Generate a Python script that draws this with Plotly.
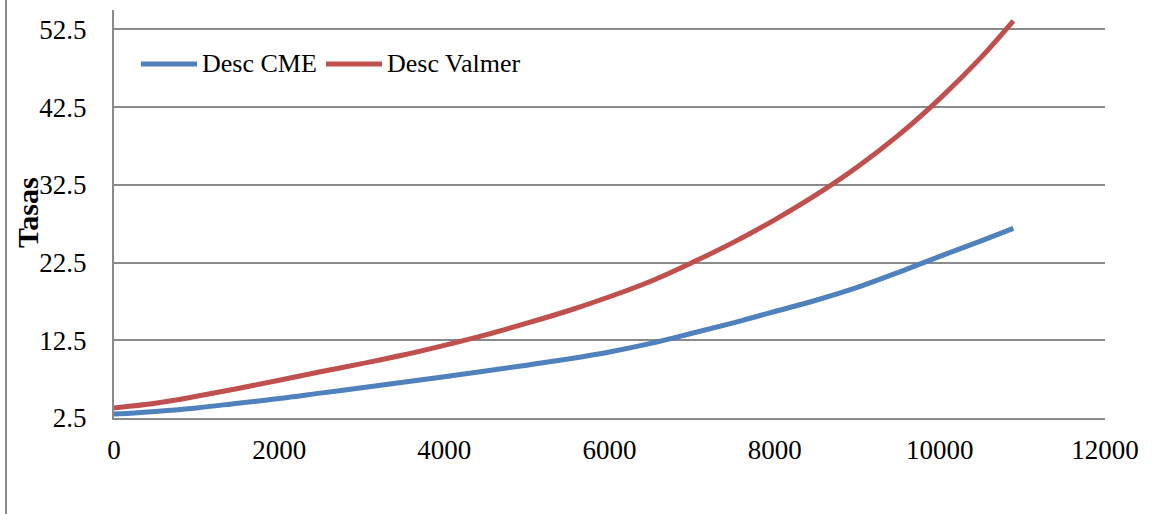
import plotly.graph_objects as go

# Plazo (días) y tasas de descuento de cada curva
plazo_cme = [0, 500, 1000, 1500, 2000, 2500, 3000, 3500, 4000, 4500, 5000, 5500,
             6000, 6500, 7000, 7500, 8000, 8500, 9000, 9500, 10000, 10500, 10890]
desc_cme = [3.0, 3.35, 3.8, 4.4, 5.0, 5.7, 6.4, 7.1, 7.8, 8.55, 9.3, 10.1,
            11.0, 12.1, 13.4, 14.75, 16.2, 17.65, 19.3, 21.25, 23.3, 25.3, 26.9]

plazo_valmer = [0, 500, 1000, 1500, 2000, 2500, 3000, 3500, 4000, 4500, 5000, 5500,
                6000, 6500, 7000, 7500, 8000, 8500, 9000, 9500, 10000, 10500, 10890]
desc_valmer = [3.8, 4.4, 5.3, 6.3, 7.35, 8.45, 9.5, 10.6, 11.85, 13.2, 14.7, 16.3,
               18.1, 20.1, 22.5, 25.1, 28.0, 31.2, 34.8, 38.9, 43.6, 48.9, 53.6]

y_ticks = [2.5, 12.5, 22.5, 32.5, 42.5, 52.5]
x_ticks = [0, 2000, 4000, 6000, 8000, 10000, 12000]

series = [("Desc CME", plazo_cme, desc_cme, "#4F81BD"),
          ("Desc Valmer", plazo_valmer, desc_valmer, "#C0504D")]

serif = "Liberation Serif"
grid_gray = "#8a8a8a"

# plot-area size in pixels, used to place the legend in paper units
W, H = 991, 408
L, T = 114, 10

fig = go.Figure()
for name, xs, ys, color in series:
    fig.add_trace(go.Scatter(x=xs, y=ys, name=name, mode="lines", showlegend=False,
                             line=dict(color=color, width=5, shape="spline")))

# legend drawn inside the plot area: a line sample followed by its label
shapes = []
annotations = []
legend_y = (418 - 64) / H
legend_items = [(141, 197, 201), (326, 382, 386)]
for (name, _, _, color), (lx0, lx1, tx) in zip(series, legend_items):
    shapes.append(dict(type="line", xref="paper", yref="paper",
                       x0=(lx0 - L) / W, x1=(lx1 - L) / W, y0=legend_y, y1=legend_y,
                       line=dict(color=color, width=5)))
    annotations.append(dict(text=name, xref="paper", yref="paper",
                            x=(tx - L) / W, y=legend_y, xanchor="left", yanchor="middle",
                            showarrow=False, borderpad=0,
                            font=dict(family=serif, size=26, color="#000000")))

# axis title
annotations.append(dict(text="<b>Tasas</b>", xref="paper", yref="paper",
                        x=(27 - L) / W, y=(418 - 213) / H, textangle=-90,
                        xanchor="center", yanchor="middle", showarrow=False,
                        font=dict(family=serif, size=30, color="#000000")))

# outer frame line on the left side of the chart
shapes.append(dict(type="line", xref="paper", yref="paper",
                   x0=(6 - L) / W, x1=(6 - L) / W, y0=-0.24, y1=1.03,
                   line=dict(color=grid_gray, width=2)))

fig.update_layout(
    width=1156, height=514,
    margin=dict(l=114, r=51, t=10, b=96),
    paper_bgcolor="white", plot_bgcolor="white",
    font=dict(family=serif, size=27, color="#000000"),
    showlegend=False,
    xaxis=dict(range=[0, 12000], tickvals=x_ticks, ticktext=[str(v) for v in x_ticks],
               showgrid=False, zeroline=False,
               showline=True, linecolor=grid_gray, linewidth=2, ticks="",
               tickfont=dict(family=serif, size=27), ticklabelstandoff=7),
    yaxis=dict(range=[2.5, 55], tickvals=y_ticks, ticktext=[str(v) for v in y_ticks],
               showgrid=True, gridcolor=grid_gray, gridwidth=2, zeroline=False,
               showline=True, linecolor=grid_gray, linewidth=2, ticks="",
               tickfont=dict(family=serif, size=27), ticklabelstandoff=20),
    shapes=shapes,
    annotations=annotations,
)

fig.write_html("out.html")
